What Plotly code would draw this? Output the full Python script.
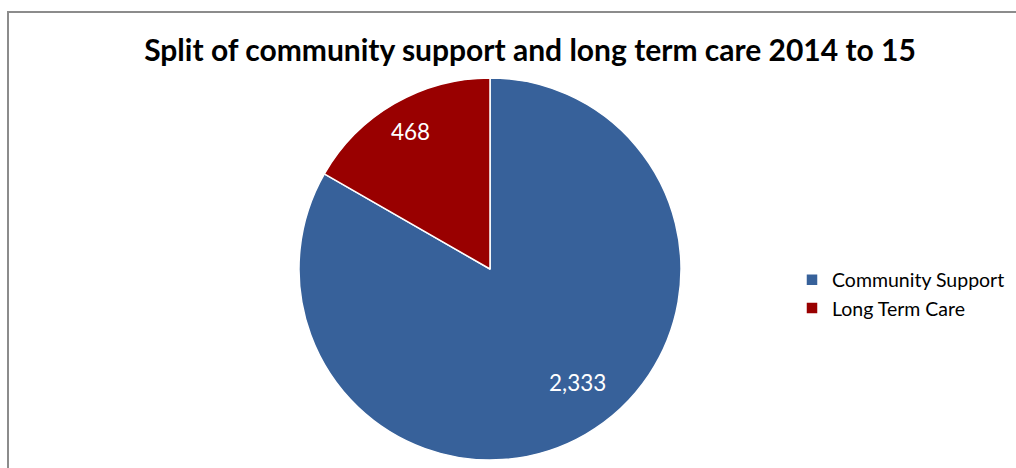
import math
import plotly.graph_objects as go

categories = ["Community Support", "Long Term Care"]
values = [2333, 468]
colors = ["#37619A", "#990000"]

# label placement style: fraction of radius and angular nudge (degrees) from slice mid-angle
label_radius = [0.75, 0.83]
label_angle_shift = [-7.4, 0.0]

W, H = 1016, 468
cx, cy, r = 490, 269, 191
FONT = "Lato, Open Sans, sans-serif"

fig = go.Figure(go.Pie(
    labels=categories,
    values=values,
    sort=False,
    direction="clockwise",
    rotation=0,
    marker=dict(colors=colors, line=dict(color="white", width=1.5)),
    textinfo="none",
    domain=dict(x=[(cx - r) / W, (cx + r) / W], y=[(H - cy - r) / H, (H - cy + r) / H]),
    hoverinfo="label+value",
))

# value labels, positioned at each slice's mid-angle (derived from values)
total = sum(values)
annotations = []
acc = 0
for v, rf, da in zip(values, label_radius, label_angle_shift):
    mid = (acc + v / 2) / total * 2 * math.pi + math.radians(da)
    acc += v
    px = cx + rf * r * math.sin(mid)
    py = cy - rf * r * math.cos(mid)
    annotations.append(dict(
        x=px / W, y=1 - py / H, xref="paper", yref="paper",
        text=f"{v:,}", showarrow=False, xanchor="center", yanchor="middle",
        font=dict(family=FONT, size=22.5, color="white"),
    ))

fig.update_layout(
    width=W, height=H,
    margin=dict(l=0, r=0, t=0, b=0),
    paper_bgcolor="white",
    title=dict(
        text="<b>Split of community support and long term care 2014 to 15</b>",
        x=530 / W, xanchor="center", y=1 - 50 / H, yanchor="middle",
        font=dict(family=FONT, size=30, color="black"),
    ),
    legend=dict(
        x=792 / W, xanchor="left", y=1 - 294 / H, yanchor="middle",
        font=dict(family=FONT, size=19.5, color="black"),
        itemwidth=30, tracegroupgap=0,
        bgcolor="rgba(0,0,0,0)",
    ),
    annotations=annotations,
    shapes=[dict(
        type="rect", xref="paper", yref="paper",
        x0=8 / W, x1=1.05, y0=-0.05, y1=1 - 12 / H,
        line=dict(color="#8c8c8c", width=2), fillcolor="rgba(0,0,0,0)", layer="below",
    )],
)

fig.write_html("out.html")
